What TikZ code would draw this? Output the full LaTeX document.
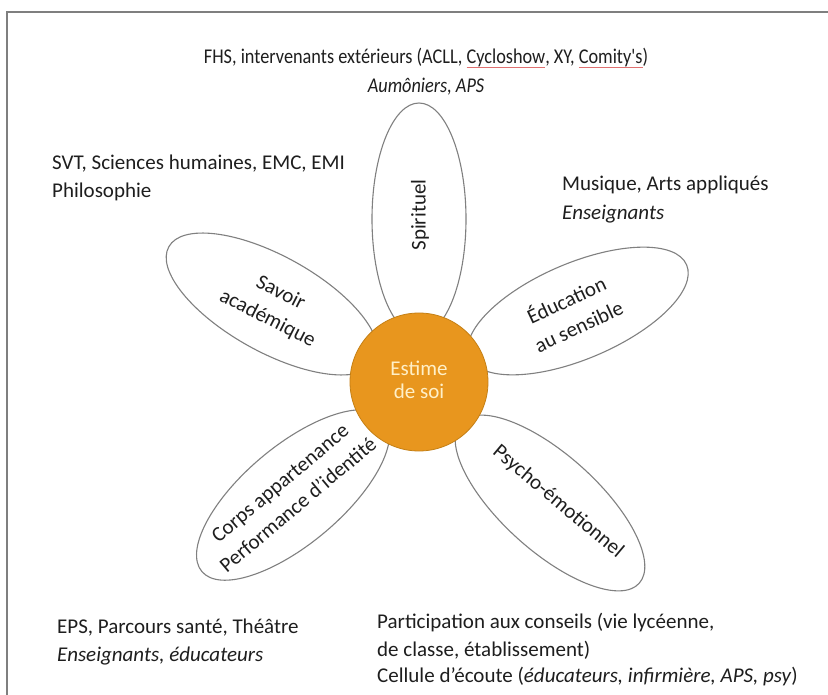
\documentclass[tikz,border=0pt]{standalone}
\usepackage{fontspec}
\setmainfont{Carlito}
\newfontfamily\narrowfont[FakeStretch=0.87]{Carlito}
\usetikzlibrary{shapes.geometric}
\definecolor{petalline}{HTML}{808080}
\definecolor{core}{HTML}{E8961E}
\definecolor{coreline}{HTML}{C47F14}
\definecolor{coretext}{HTML}{FFF0C8}
\definecolor{ink}{HTML}{1E1E1E}
\definecolor{frameline}{HTML}{7F7F7F}
\definecolor{squig}{HTML}{E07070}
\newsavebox\spellbox
\newcommand\spellmark[1]{\sbox\spellbox{#1}\rlap{\textcolor{squig}{\rule[-4pt]{\wd\spellbox}{0.7pt}}}\usebox\spellbox}
\begin{document}
\begin{tikzpicture}[x=1pt,y=1pt,
  petal/.style={ellipse, draw=petalline, line width=1.1pt, fill=white, inner sep=0pt},
  lbl/.style={font=\fontsize{21}{28.5}\selectfont, text=ink, inner sep=0pt},
  toplbl/.style={font=\narrowfont\fontsize{21}{28}\selectfont, text=ink, inner sep=0pt},
  ptxt/.style={font=\fontsize{21}{29}\selectfont, text=ink, inner sep=0pt, align=center}]
\useasboundingbox (0,0) rectangle (828,-695);
\fill[white] (0,0) rectangle (828,-695);
\draw[frameline, line width=2pt] (7,-695) -- (7,-12) -- (828,-12);

% petals
\node[petal, minimum width=232, minimum height=94, rotate=90] (p1) at (419,-219) {};
\node[petal, minimum width=236, minimum height=96, rotate=-29] (p2) at (272,-304) {};
\node[petal, minimum width=236, minimum height=96, rotate=23] (p3) at (578,-311) {};
\node[petal, minimum width=238, minimum height=98, rotate=40] (p4) at (293,-495) {};
\node[petal, minimum width=240, minimum height=96, rotate=-42] (p5) at (550,-503) {};

% core
\node[circle, fill=core, draw=coreline, line width=0.8pt, minimum size=138, inner sep=0pt] (core) at (419,-382) {};
\node[ptxt, text=coretext, anchor=base] (core1) at (419,-375) {Estime};
\node[ptxt, text=coretext, anchor=base] (core2) at (419,-398) {de soi};

% petal texts
\node[ptxt, rotate=90] (t1) at (420,-215) {Spirituel};
\node[ptxt, rotate=-27] (t2) at (274,-306) {Savoir\\académique};
\node[ptxt, rotate=25] (t3) at (572,-312) {Éducation\\au sensible};
\node[ptxt, rotate=40, font=\fontsize{21}{28}\selectfont] (t4) at (289,-494) {Corps appartenance\\Performance d’identité};
\node[ptxt, rotate=-40] (t5) at (558,-502) {Psycho-émotionnel};

% outer labels
\node[toplbl, anchor=base] (top1) at (426,-64) {FHS, intervenants extérieurs (ACLL, \spellmark{Cycloshow}, XY, \spellmark{Comity's})};
\node[toplbl, anchor=base] (top2) at (426,-93) {\itshape Aumôniers, APS};

\node[lbl, anchor=base west] (svt1) at (52,-170) {SVT, Sciences humaines, EMC, EMI};
\node[lbl, anchor=base west] (svt2) at (52,-198) {Philosophie};

\node[lbl, anchor=base west] (mus1) at (562,-191) {Musique, Arts appliqués};
\node[lbl, anchor=base west] (mus2) at (562,-220) {\itshape Enseignants};

\node[lbl, anchor=base west] (eps1) at (57,-633) {EPS, Parcours santé, Théâtre};
\node[lbl, anchor=base west] (eps2) at (57,-661) {\itshape Enseignants, éducateurs};

\node[lbl, anchor=base west] (par1) at (377,-628) {Participation aux conseils (vie lycéenne,};
\node[lbl, anchor=base west] (par2) at (377,-656) {de classe, établissement)};
\node[lbl, anchor=base west] (par3) at (377,-682) {Cellule d’écoute (\textit{éducateurs, infirmière, APS, psy})};
\end{tikzpicture}
\end{document}
